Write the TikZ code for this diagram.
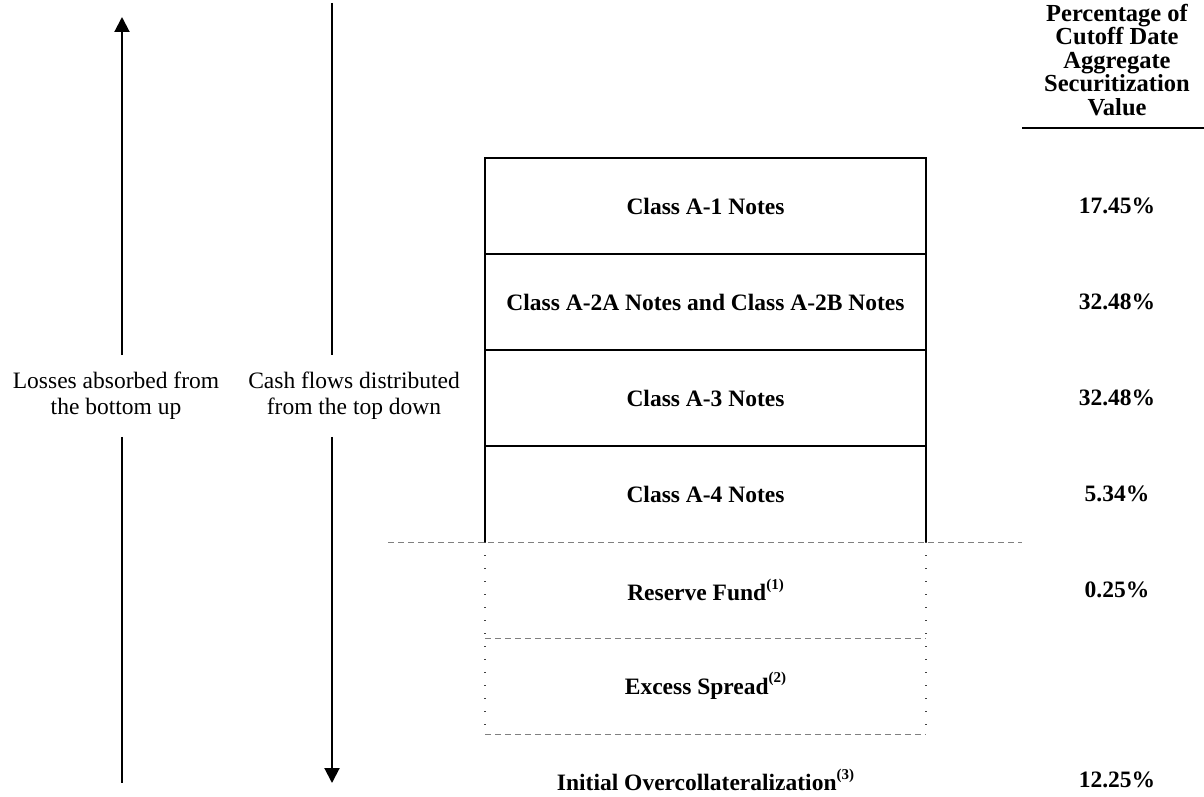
\documentclass[tikz,border=0pt]{standalone}
\usepackage{fontspec}
\setmainfont{Liberation Serif}
\usetikzlibrary{arrows.meta,positioning}

\newcommand\fnmark[1]{\raisebox{0.5em}{\fontsize{15}{15}\selectfont(#1)}}

\begin{document}
\begin{tikzpicture}[x=1pt,y=-1pt,
        tranche/.style={minimum width=441pt,minimum height=96pt,inner sep=0pt,outer sep=0pt,
          align=center,font=\bfseries\fontsize{23.5}{26}\selectfont},
        pct/.style={font=\bfseries\fontsize{23.5}{26}\selectfont},
        side/.style={align=center,font=\fontsize{23.5}{26}\selectfont,inner xsep=0pt,inner ysep=17pt},
        boxline/.style={line width=2pt},
        flow/.style={line width=2pt,-{Triangle[length=15pt,width=15pt]}},
        cutline/.style={gray,line width=1pt,dash pattern=on 6pt off 4pt},
        dotline/.style={black!75,line width=1.4pt,dash pattern=on 1.4pt off 11.6pt}]
        \useasboundingbox (0,0) rectangle (1204,797);
        % header of the right column
        \node[pct,align=center,font=\bfseries\fontsize{24.5}{23.5}\selectfont,anchor=north,inner sep=0pt]
        (hdr) at (1117,4) {Percentage of\\Cutoff Date\\Aggregate\\Securitization\\Value};
        \coordinate (ulL) at (1022,128);
        \coordinate (ulR) at (1204,128);
        \draw[boxline] (ulL) -- (ulR);
        % the stack of tranches
        \node[tranche] (a1) at (705.5,206) {Class A-1 Notes};
        \node[tranche,below=0pt of a1] (a2) {Class A-2A Notes and Class A-2B Notes};
        \node[tranche,below=0pt of a2] (a3) {Class A-3 Notes};
        \node[tranche,below=0pt of a3] (a4) {Class A-4 Notes};
        \node[tranche,below=0pt of a4] (rf) {Reserve Fund\fnmark{1}};
        \node[tranche,below=0pt of rf] (xs) {Excess Spread\fnmark{2}};
        \node[pct] (oc) at (705.5,780) {Initial Overcollateralization\fnmark{3}};
        \draw[boxline] (a4.south west) -- (a1.north west) -- (a1.north east) -- (a4.south east);
        \foreach \t in {a1,a2,a3}
          \draw[boxline] (\t.south west) -- (\t.south east);
        \coordinate (cutL) at (388,542);
        \coordinate (cutR) at (1022,542);
        \draw[cutline] (cutL) -- (cutR);
        \draw[dotline] (rf.north west) -- (xs.south west);
        \draw[dotline] (rf.north east) -- (xs.south east);
        \draw[cutline] (rf.south west) -- (rf.south east);
        \draw[cutline] (xs.south west) -- (xs.south east);
        % percentages
        \node[pct] (p1) at (a1 -| hdr) {17.45\%};
        \node[pct] (p2) at (a2 -| hdr) {32.48\%};
        \node[pct] (p3) at (a3 -| hdr) {32.48\%};
        \node[pct] (p4) at (a4 -| hdr) {5.34\%};
        \node[pct] (p5) at (rf -| hdr) {0.25\%};
        \node[pct] (p6) at (oc -| hdr) {12.25\%};
        % the two arrows
        \coordinate (lossTop) at (122,17);
        \coordinate (lossBot) at (122,783);
        \node[side] (loss) at (116,396) {Losses absorbed from\\the bottom up};
        \draw[flow] (loss.north -| lossTop) -- (lossTop);
        \draw[boxline] (loss.south -| lossBot) -- (lossBot);
        \coordinate (cashTop) at (332,3);
        \coordinate (cashBot) at (332,783);
        \node[side] (cash) at (354,396) {Cash flows distributed\\from the top down};
        \draw[boxline] (cashTop) -- (cash.north -| cashTop);
        \draw[flow] (cash.south -| cashBot) -- (cashBot);
\end{tikzpicture}
\end{document}
